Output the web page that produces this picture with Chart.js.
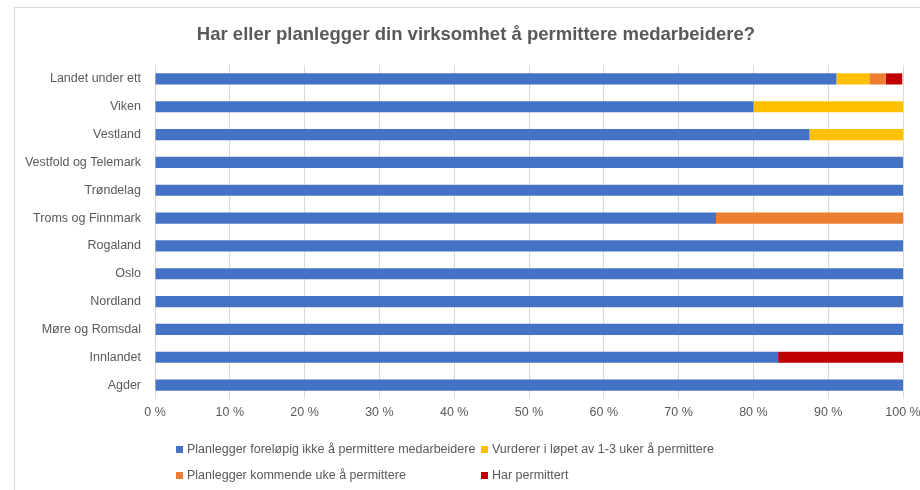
<!DOCTYPE html>
<html>
<head>
<meta charset="utf-8">
<script src="https://cdn.jsdelivr.net/npm/chart.js@4"></script>
<style>
    html, body { margin: 0; padding: 0; background: #fff; }
    #wrap { position: relative; width: 920px; height: 490px; overflow: hidden; }
    #frame { position: absolute; left: 14px; top: 7px; width: 940px; height: 500px; border-left: 1px solid #d9d9d9; border-top: 1px solid #d9d9d9; }
    #title { position: absolute; left: 0; width: 952px; top: 23px; text-align: center; font: bold 18.5px 'Liberation Sans', sans-serif; color: #595959; }
    #legend { position: absolute; left: 176px; top: 442px; font: 12.5px 'Liberation Sans', sans-serif; color: #595959;
              display: grid; grid-template-columns: 305px auto; row-gap: 12px; }
    .lg-item { display: flex; align-items: center; white-space: nowrap; }
    .lg-box { width: 7px; height: 7px; margin-right: 4px; }
</style>
</head>
<body>
<div id="wrap">
    <div id="frame"></div>
    <canvas id="chart" width="920" height="490"></canvas>
    <div id="title">Har eller planlegger din virksomhet å permittere medarbeidere?</div>
    <div id="legend"></div>
</div>
<script>
// ---- data ----
const regions = ['Landet under ett', 'Viken', 'Vestland', 'Vestfold og Telemark', 'Trøndelag', 'Troms og Finnmark',
    'Rogaland', 'Oslo', 'Nordland', 'Møre og Romsdal', 'Innlandet', 'Agder'];
const notPlanning = [91.1, 80, 87.5, 100, 100, 75, 100, 100, 100, 100, 83.3, 100];
const considering = [4.4, 20, 12.5, 0, 0, 0, 0, 0, 0, 0, 0, 0];
const nextWeek = [2.2, 0, 0, 0, 0, 25, 0, 0, 0, 0, 0, 0];
const laidOff = [2.2, 0, 0, 0, 0, 0, 0, 0, 0, 0, 16.7, 0];
const seriesNames = ['Planlegger foreløpig ikke å permittere medarbeidere', 'Vurderer i løpet av 1-3 uker å permittere',
    'Planlegger kommende uke å permittere', 'Har permittert'];
const xTicks = [0, 10, 20, 30, 40, 50, 60, 70, 80, 90, 100];

const colors = ['#4472c4', '#ffc000', '#ed7d31', '#c00000'];
const textColor = '#595959';

const datasets = [notPlanning, considering, nextWeek, laidOff].map((d, i) => ({
    label: seriesNames[i], data: d, backgroundColor: colors[i], borderWidth: 0,
    barPercentage: 0.8, categoryPercentage: 0.5
}));

const chart = new Chart(document.getElementById('chart'), {
    type: 'bar',
    data: { labels: regions, datasets: datasets },
    options: {
        indexAxis: 'y',
        responsive: false,
        animation: false,
        layout: { padding: { left: 0, right: 17, top: 65, bottom: 66 } },
        scales: {
            x: {
                stacked: true, min: 0, max: 100,
                afterBuildTicks: s => { s.ticks = xTicks.map(v => ({ value: v })); },
                afterFit: s => { s.height = 25; s.paddingLeft = 0; s.paddingRight = 0; },
                grid: { color: '#d9d9d9', drawTicks: false },
                border: { display: false },
                ticks: { color: textColor, padding: 6, font: { family: 'Liberation Sans', size: 12.5 }, callback: v => v + ' %' }
            },
            y: {
                stacked: true,
                afterFit: s => { s.width = 155; },
                grid: { display: false },
                border: { display: false },
                ticks: { color: textColor, padding: 6, font: { family: 'Liberation Sans', size: 12.5 } }
            }
        },
        plugins: {
            legend: { display: false },
            tooltip: { enabled: false },
            title: { display: false }
        }
    }
});

// legend in two columns, like the original
document.getElementById('legend').innerHTML = chart.data.datasets.map(ds =>
    `<div class="lg-item"><span class="lg-box" style="background:${ds.backgroundColor}"></span>${ds.label}</div>`
).join('');
</script>
</body>
</html>
